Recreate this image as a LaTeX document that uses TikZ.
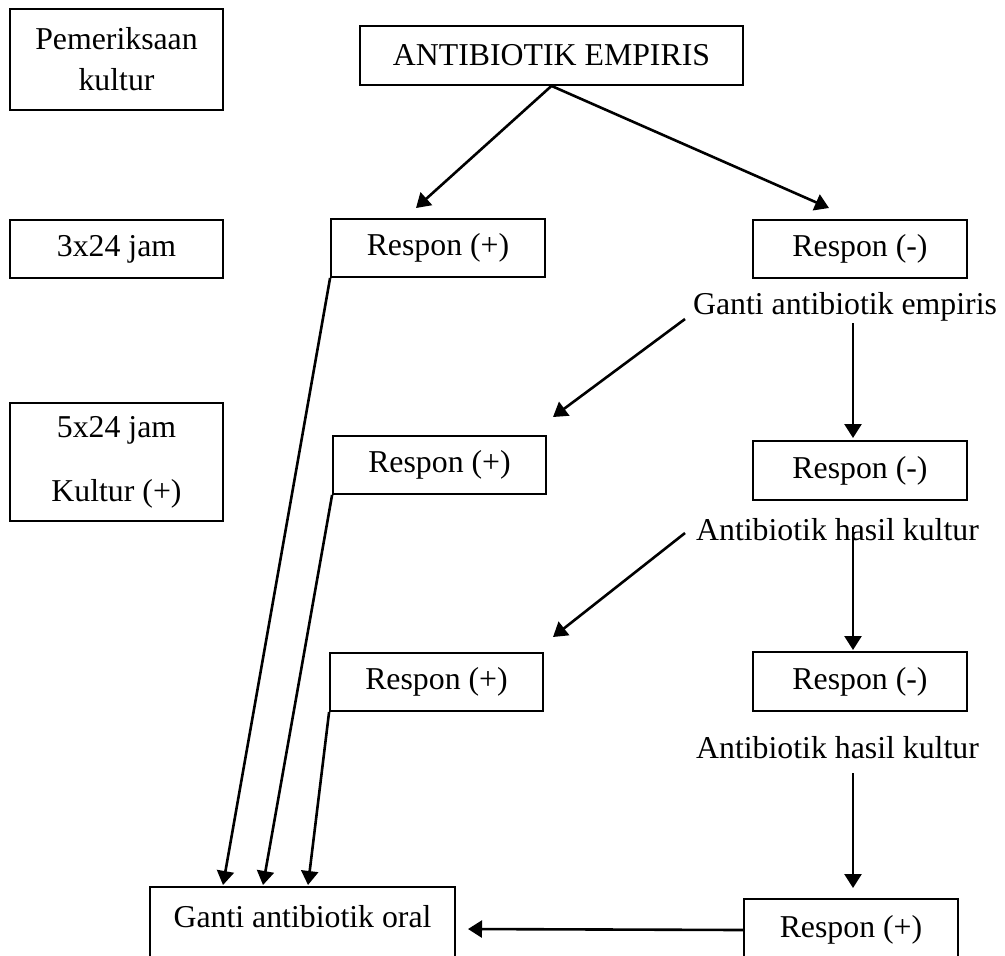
\documentclass[tikz,border=0pt]{standalone}
\usepackage{fontspec}
\setmainfont{Liberation Serif}
\usetikzlibrary{arrows.meta}
\begin{document}
\begin{tikzpicture}[x=0.5pt,y=-0.5pt,
  every node/.style={font=\fontsize{15.9pt}{20.5pt}\selectfont, inner sep=0pt, align=center},
  box/.style={draw, line width=0.9pt, minimum height=29pt},
  conn/.style={line width=1.3pt, -{Triangle[length=7pt,width=8.5pt]}}]
\useasboundingbox (0,0) rectangle (1005,955);
\clip (0,0) rectangle (1005,955);
% left column
\node[box, minimum width=106.5pt, minimum height=50.5pt] (pem) at (116.5,59.5) {Pemeriksaan\\kultur};
\node[box, minimum width=106.5pt] (h3) at (116.5,249) {3x24 jam};
\node[box, minimum width=106.5pt, minimum height=59pt] (h5) at (116.5,462) {5x24 jam\\[11.5pt]Kultur (+)};
% main flow
\node[box, minimum width=191.5pt, minimum height=29.5pt] (anti) at (551.5,55.5) {ANTIBIOTIK EMPIRIS};
\node[box, minimum width=107pt] (rp1) at (438,248) {Respon (+)};
\node[box, minimum width=107pt] (rm1) at (860,249) {Respon (-)};
\node (t1) at (845,307) {Ganti antibiotik empiris};
\node[box, minimum width=106.5pt] (rp2) at (439.5,465) {Respon (+)};
\node[box, minimum width=107pt, minimum height=29.5pt] (rm2) at (860,470.5) {Respon (-)};
\node (t2) at (837.5,530) {Antibiotik hasil kultur};
\node[box, minimum width=106.5pt] (rp3) at (436.5,682) {Respon (+)};
\node[box, minimum width=107pt, minimum height=29.5pt] (rm3) at (860,681.5) {Respon (-)};
\node (t3) at (837.5,748) {Antibiotik hasil kultur};
\node[box, minimum width=107pt, minimum height=60pt, anchor=north] (rp4) at (851,898) {};
\node (rp4t) at (851,930) {Respon (+)};
\node[box, minimum width=152.5pt, minimum height=60pt, anchor=north] (oral) at (302.5,886) {};
\node (oralt) at (302.5,917) {Ganti antibiotik oral};
% free ends
\coordinate (e1) at (416,208);
\coordinate (e2) at (829,208);
\coordinate (s3) at (685,319);
\coordinate (e3) at (553,417);
\coordinate (s4) at (853,323);
\coordinate (e4) at (853,438);
\coordinate (s5) at (685,533);
\coordinate (e5) at (553,637);
\coordinate (s6) at (853,527);
\coordinate (e6) at (853,650);
\coordinate (s7) at (853,773);
\coordinate (e7) at (853,888);
\coordinate (s8) at (744,930);
\coordinate (e8) at (468,929);
\coordinate (o1) at (223,885);
\coordinate (o2) at (263,885);
\coordinate (o3) at (308,885);
% connectors
\draw[conn] (anti.south) -- (e1);
\draw[conn] (anti.south) -- (e2);
\draw[conn] (s3) -- (e3);
\draw[conn] (s4) -- (e4);
\draw[conn] (s5) -- (e5);
\draw[conn] (s6) -- (e6);
\draw[conn] (s7) -- (e7);
\draw[conn] (s8) -- (e8);
\draw[conn] (rp1.south west) -- (o1);
\draw[conn] (rp2.south west) -- (o2);
\draw[conn] (rp3.south west) -- (o3);
\end{tikzpicture}
\end{document}
